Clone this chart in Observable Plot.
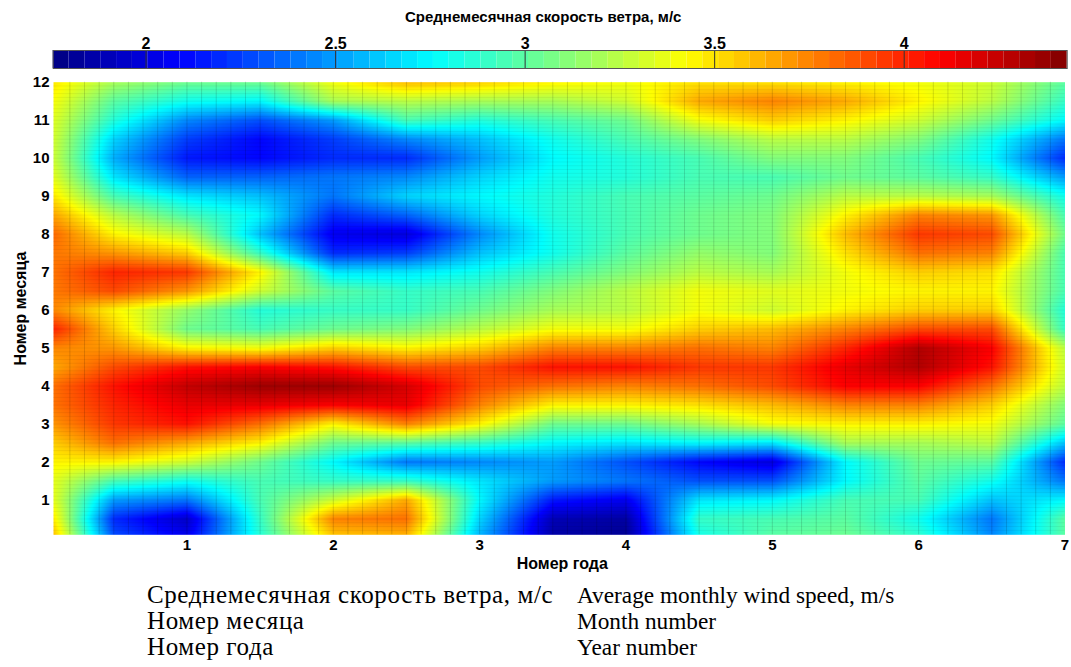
<!DOCTYPE html>
<html><head><meta charset="utf-8">
<script src="https://cdn.jsdelivr.net/npm/d3@7"></script>
<script src="https://cdn.jsdelivr.net/npm/@observablehq/plot@0.6"></script>
<style>
html,body{margin:0;padding:0;background:#fff;}
body{width:1071px;height:667px;overflow:hidden;font-family:"Liberation Sans",Arial,sans-serif;}
#bar svg,#main svg{display:block;}
#notes{position:absolute;left:0;top:572px;width:1071px;font-family:"Liberation Serif","Times New Roman",serif;line-height:26px;color:#000;}
#notes table{border-collapse:collapse;margin-left:147px;margin-top:10px;}
#notes td{padding:0;vertical-align:baseline;white-space:nowrap;}
#notes td.ru{width:430px;font-size:25px;letter-spacing:0.6px;}
#notes td.en{font-size:23.3px;}
</style></head><body>
<div id="bar"></div>
<div id="main"></div>
<div id="notes"></div>
<script>
// ---- data ----
const years = [0, 0.5, 1, 1.5, 2, 2.5, 3, 3.5, 4, 4.5, 5, 5.5, 6, 6.5, 7];
const months = [12, 11.5, 11, 10.5, 10, 9.5, 9, 8.5, 8, 7.5, 7, 6.5, 6, 5.5, 5, 4.5, 4, 3.5, 3, 2.5, 2, 1.5, 1, 0.5, 0];
// average monthly wind speed, m/s; one row per month value (top to bottom), one column per year value
const speed = [
  [3.55, 3.20, 3.05, 3.05, 3.40, 3.60, 3.55, 3.45, 3.40, 3.50, 3.50, 3.45, 3.40, 3.30, 3.00],
  [3.50, 3.00, 2.80, 2.75, 3.20, 3.25, 3.20, 3.20, 3.30, 3.65, 3.75, 3.65, 3.45, 3.25, 2.90],
  [3.45, 2.85, 2.45, 2.30, 2.50, 2.95, 2.85, 2.95, 3.05, 3.40, 3.55, 3.45, 3.30, 3.05, 2.75],
  [3.45, 2.65, 2.25, 2.10, 2.25, 2.45, 2.60, 2.80, 2.95, 3.10, 3.25, 3.25, 3.10, 2.80, 2.40],
  [3.45, 2.55, 2.15, 2.10, 2.20, 2.20, 2.50, 2.75, 2.85, 2.95, 3.10, 3.10, 2.95, 2.75, 2.20],
  [3.50, 2.70, 2.35, 2.35, 2.40, 2.45, 2.65, 2.80, 2.85, 2.95, 2.95, 3.05, 3.00, 2.90, 2.50],
  [3.60, 2.95, 2.70, 2.60, 2.40, 2.65, 2.75, 2.85, 2.95, 3.00, 3.05, 3.25, 3.25, 3.20, 2.80],
  [3.75, 3.25, 2.95, 2.75, 2.20, 2.35, 2.65, 2.85, 2.95, 3.05, 3.10, 3.45, 3.75, 3.70, 2.95],
  [3.90, 3.45, 3.25, 2.60, 2.05, 2.00, 2.45, 2.80, 2.95, 3.05, 3.10, 3.60, 3.95, 3.90, 3.05],
  [3.80, 3.70, 3.55, 2.90, 2.20, 2.25, 2.60, 2.80, 3.00, 3.15, 3.10, 3.50, 3.80, 3.75, 2.95],
  [3.75, 4.00, 3.95, 3.45, 2.70, 2.70, 2.80, 2.95, 3.10, 3.25, 3.20, 3.40, 3.55, 3.50, 2.95],
  [3.75, 3.90, 3.70, 3.30, 3.00, 2.90, 2.95, 3.10, 3.25, 3.40, 3.35, 3.40, 3.45, 3.45, 2.95],
  [3.80, 3.45, 3.15, 2.85, 2.90, 2.90, 3.05, 3.20, 3.25, 3.40, 3.30, 3.45, 3.55, 3.55, 2.85],
  [4.10, 3.55, 3.05, 2.95, 3.05, 3.10, 3.25, 3.40, 3.40, 3.55, 3.60, 3.75, 3.90, 3.90, 2.90],
  [3.75, 3.70, 3.45, 3.40, 3.55, 3.45, 3.55, 3.75, 3.75, 3.80, 3.75, 4.00, 4.30, 4.10, 3.25],
  [3.60, 3.90, 4.05, 4.10, 4.05, 3.90, 3.90, 4.05, 4.05, 3.95, 3.95, 4.15, 4.30, 4.05, 3.30],
  [3.75, 4.05, 4.25, 4.35, 4.35, 4.20, 3.90, 3.80, 3.75, 3.80, 3.90, 4.10, 4.10, 3.80, 3.25],
  [3.75, 4.00, 4.15, 4.15, 4.10, 4.15, 3.75, 3.45, 3.45, 3.50, 3.60, 3.75, 3.75, 3.55, 3.10],
  [3.65, 3.95, 4.05, 3.80, 3.45, 3.75, 3.45, 3.05, 3.05, 3.20, 3.40, 3.45, 3.45, 3.40, 3.00],
  [3.50, 3.80, 3.65, 3.45, 3.05, 3.00, 2.90, 2.75, 2.70, 2.75, 2.70, 3.20, 3.20, 3.25, 2.60],
  [3.45, 3.45, 3.30, 3.05, 2.75, 2.40, 2.45, 2.50, 2.30, 2.10, 2.00, 2.75, 3.05, 3.00, 2.20],
  [3.45, 2.95, 2.80, 2.95, 2.90, 2.90, 2.70, 2.50, 2.40, 2.30, 2.30, 2.75, 3.00, 2.80, 2.40],
  [3.55, 2.50, 2.40, 2.95, 3.30, 3.65, 2.75, 2.15, 2.05, 2.70, 2.75, 2.95, 2.95, 2.60, 2.75],
  [3.75, 2.20, 1.95, 2.90, 3.75, 3.80, 2.65, 1.90, 1.85, 2.90, 2.95, 3.00, 2.80, 2.40, 3.00],
  [3.90, 2.30, 2.05, 2.85, 3.55, 3.60, 2.55, 1.85, 1.80, 2.80, 3.00, 3.05, 2.90, 2.45, 3.00]
];
const colorRange = [1.755, 4.43];
const colorTicks = [2, 2.5, 3, 3.5, 4];
const yearTicks = [1, 2, 3, 4, 5, 6, 7];
const monthTicks = [1, 2, 3, 4, 5, 6, 7, 8, 9, 10, 11, 12];
const colorTitle = "Среднемесячная скорость ветра, м/с";
const xTitle = "Номер года";
const yTitle = "Номер месяца";
const glossRu = ["Среднемесячная скорость ветра, м/с", "Номер месяца", "Номер года"];
const glossEn = ["Average monthly wind speed, m/s", "Month number", "Year number"];

// ---- jet colour scale (piecewise linear, MATLAB jet) ----
const [L, H] = colorRange;
const jetStops = [0, 0.125, 0.375, 0.625, 0.875, 1];
const jetColors = ["#000080", "#0000ff", "#00ffff", "#ffff00", "#ff0000", "#800000"];
const colorScale = {type: "linear", domain: jetStops.map(t => L + t * (H - L)), range: jetColors, interpolate: "rgb", clamp: true};

const font = {fontFamily: "'Liberation Sans', Arial, sans-serif", fontWeight: "bold", fontSize: "15px", color: "#000", background: "#fff"};
const fmt = d => String(d);

// ---- colour bar ----
const nSteps = 64;
const steps = d3.range(nSteps).map(i => ({a: L + i * (H - L) / nSteps, b: L + (i + 1) * (H - L) / nSteps, v: L + (i + 0.5) * (H - L) / nSteps}));
const bar = Plot.plot({
  width: 1071, height: 72,
  marginTop: 50, marginBottom: 4, marginLeft: 52.7, marginRight: 4.3,
  x: {domain: colorRange},
  y: {domain: [0, 1], axis: null},
  color: colorScale,
  style: font,
  marks: [
    Plot.rect(steps, {x1: "a", x2: "b", y1: 0, y2: 1, fill: "v"}),
    Plot.ruleX(colorTicks, {y1: 0, y2: 1, stroke: "#333", strokeWidth: 1}),
    Plot.frame({stroke: "#555", strokeWidth: 1}),
    Plot.axisX(colorTicks, {anchor: "top", tickSize: 0, tickPadding: 2, label: null, tickFormat: fmt, fontWeight: "bold", fontSize: 16}),
    Plot.text([colorTitle], {frameAnchor: "top", dy: -33, dx: -17, lineAnchor: "middle", fontWeight: "bold", fontSize: 15})
  ]
});
document.getElementById("bar").append(bar);

// ---- heat map: the grid above, sampled bilinearly at every pixel by Plot.raster ----
const nx = years.length, ny = months.length;
function speedAt(x, y) {
  let fx = (x - years[0]) / (years[1] - years[0]);
  let fy = (months[0] - y) / (months[0] - months[1]);
  fx = Math.max(0, Math.min(nx - 1, fx));
  fy = Math.max(0, Math.min(ny - 1, fy));
  const i = Math.min(nx - 2, Math.floor(fx)), j = Math.min(ny - 2, Math.floor(fy));
  const tx = fx - i, ty = fy - j;
  return (1 - tx) * (1 - ty) * speed[j][i] + tx * (1 - ty) * speed[j][i + 1]
       + (1 - tx) * ty * speed[j + 1][i] + tx * ty * speed[j + 1][i + 1];
}
const xDomain = [0.088, 7], yDomain = [0.083, 12];
const main = Plot.plot({
  width: 1071, height: 500,
  marginTop: 9.7, marginBottom: 37.7, marginLeft: 53, marginRight: 6.5,
  x: {domain: xDomain},
  y: {domain: yDomain},
  color: colorScale,
  style: font,
  marks: [
    Plot.raster({fill: speedAt, x1: xDomain[0], x2: xDomain[1], y1: yDomain[1], y2: yDomain[0], pixelSize: 1}),
    Plot.ruleX(d3.range(0.2, 7, 0.1), {stroke: "#000", strokeOpacity: 0.18, strokeWidth: 0.8}),
    Plot.ruleY(d3.range(0.2, 12, 0.1), {stroke: "#000", strokeOpacity: 0.07, strokeWidth: 0.8}),
    Plot.axisX(yearTicks, {tickSize: 0, tickPadding: 5, label: null, tickFormat: fmt, fontWeight: "bold", fontSize: 15}),
    Plot.axisY(monthTicks, {tickSize: 0, tickPadding: 4, label: null, tickFormat: fmt, fontWeight: "bold", fontSize: 15}),
    Plot.text([xTitle], {frameAnchor: "bottom", dy: 29, dx: 3, lineAnchor: "middle", fontWeight: "bold", fontSize: 16}),
    Plot.text([yTitle], {frameAnchor: "left", dx: -33, rotate: -90, textAnchor: "middle", lineAnchor: "middle", fontWeight: "bold", fontSize: 16})
  ]
});
document.getElementById("main").append(main);

// ---- glossary below the chart ----
const tbl = d3.select("#notes").append("table");
glossRu.forEach((ru, i) => {
  const tr = tbl.append("tr");
  tr.append("td").attr("class", "ru").text(ru);
  tr.append("td").attr("class", "en").text(glossEn[i]);
});
</script>
</body></html>
